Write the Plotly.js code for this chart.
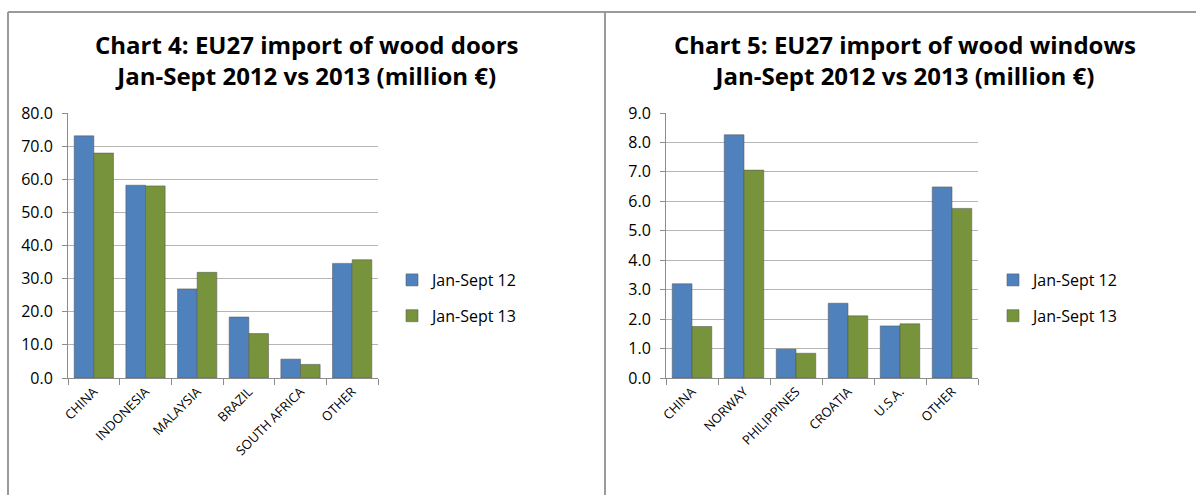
<!DOCTYPE html>
<html>
<head>
<meta charset="utf-8">
<script src="https://cdn.plot.ly/plotly-3.0.1.min.js"></script>
<style>html,body{margin:0;padding:0;background:#fff;}#chart{width:1196px;height:495px;}</style>
</head>
<body>
<div id="chart"></div>
<script>
// Chart 4: wood doors
const doorCountries = ["CHINA", "INDONESIA", "MALAYSIA", "BRAZIL", "SOUTH AFRICA", "OTHER"];
const doors2012 = [73.1, 58.2, 26.9, 18.4, 5.7, 34.6];
const doors2013 = [67.9, 58.0, 31.9, 13.4, 4.1, 35.7];
// Chart 5: wood windows
const windowCountries = ["CHINA", "NORWAY", "PHILIPPINES", "CROATIA", "U.S.A.", "OTHER"];
const windows2012 = [3.20, 8.26, 0.98, 2.54, 1.77, 6.49];
const windows2013 = [1.75, 7.06, 0.84, 2.11, 1.84, 5.76];
const seriesNames = ["Jan-Sept 12", "Jan-Sept 13"];
const yTicksDoors = [0, 10, 20, 30, 40, 50, 60, 70, 80];
const yTicksWindows = [0, 1, 2, 3, 4, 5, 6, 7, 8, 9];
const titles = [
  "Chart 4: EU27 import of wood doors<br>Jan-Sept 2012 vs 2013 (million €)",
  "Chart 5: EU27 import of wood windows<br>Jan-Sept 2012 vs 2013 (million €)"
];

const BLUE = "#4F81BD", GREEN = "#77933C";
const W = 1196, H = 495;
const FONT = "'Open Sans', Lato, sans-serif";

function bar(x, y, name, color, xa, ya, leg, grp) {
  return {
    type: "bar", x: x, y: y, name: name, xaxis: xa, yaxis: ya,
    legend: leg, legendgroup: grp,
    marker: {color: color, line: {color: "rgba(90,90,90,0.55)", width: 1}},
    hoverinfo: "x+y+name"
  };
}

const data = [
  bar(doorCountries, doors2012, seriesNames[0], BLUE, "x", "y", "legend", "a"),
  bar(doorCountries, doors2013, seriesNames[1], GREEN, "x", "y", "legend", "b"),
  bar(windowCountries, windows2012, seriesNames[0], BLUE, "x2", "y2", "legend2", "c"),
  bar(windowCountries, windows2013, seriesNames[1], GREEN, "x2", "y2", "legend2", "d")
];

const px = v => v / W;
const py = v => (H - v) / H;

function xaxis(domain, anchor) {
  return {
    domain: domain, anchor: anchor, type: "category",
    tickangle: -45, ticks: "outside", tickson: "boundaries", ticklen: 6,
    tickcolor: "#8c8c8c", showline: true, linecolor: "#8c8c8c", linewidth: 1,
    showgrid: false, tickfont: {family: FONT, size: 13, color: "#000"},
    fixedrange: true
  };
}
function yaxis(domain, anchor, range, tickvals) {
  return {
    domain: domain, anchor: anchor, range: range, tickvals: tickvals,
    tickformat: ".1f", ticks: "outside", ticklen: 5, tickcolor: "#8c8c8c",
    showline: true, linecolor: "#8c8c8c", linewidth: 1,
    gridcolor: "#b5b5b5", gridwidth: 1, zeroline: false,
    tickfont: {family: FONT, size: 16, color: "#000"}, ticklabelstandoff: 6,
    fixedrange: true
  };
}

const yDom = [py(378), py(113)];
const legendBase = {
  xanchor: "left", yanchor: "middle",
  font: {family: FONT, size: 16, color: "#000"}, traceorder: "grouped",
  tracegroupgap: 12, bgcolor: "rgba(0,0,0,0)", itemwidth: 30
};
const layout = {
  width: W, height: H,
  margin: {l: 0, r: 0, t: 0, b: 0},
  paper_bgcolor: "#fff", plot_bgcolor: "#fff",
  barmode: "group", bargap: 0.24, bargroupgap: 0,
  showlegend: true,
  xaxis: xaxis([px(68), px(378)], "y"),
  yaxis: yaxis(yDom, "x", [0, 80], yTicksDoors),
  xaxis2: xaxis([px(666), px(978)], "y2"),
  yaxis2: yaxis(yDom, "x2", [0, 9], yTicksWindows),
  legend: Object.assign({x: px(392), y: py(298)}, legendBase),
  legend2: Object.assign({x: px(993), y: py(298)}, legendBase),
  annotations: [
    {text: titles[0], xref: "paper", yref: "paper", x: px(307), y: py(60),
     xanchor: "center", yanchor: "middle", showarrow: false,
     font: {family: FONT, size: 24, color: "#000", weight: "bold"}},
    {text: titles[1], xref: "paper", yref: "paper", x: px(905), y: py(60),
     xanchor: "center", yanchor: "middle", showarrow: false,
     font: {family: FONT, size: 24, color: "#000", weight: "bold"}}
  ],
  shapes: [
    {type: "line", xref: "paper", yref: "paper", x0: px(8), x1: 1, y0: py(12), y1: py(12),
     line: {color: "#9a9a9a", width: 2}},
    {type: "line", xref: "paper", yref: "paper", x0: px(8), x1: px(8), y0: 0, y1: py(12),
     line: {color: "#9a9a9a", width: 2}},
    {type: "line", xref: "paper", yref: "paper", x0: px(605), x1: px(605), y0: 0, y1: py(12),
     line: {color: "#9a9a9a", width: 2}}
  ]
};

Plotly.newPlot("chart", data, layout, {displayModeBar: false, staticPlot: true});
</script>
</body>
</html>
